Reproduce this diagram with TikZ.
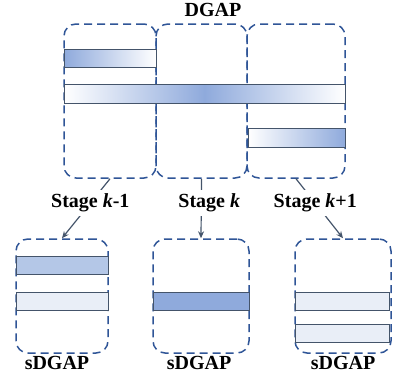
\documentclass[tikz,border=0pt]{standalone}
\usepackage{fontspec}
\setmainfont{Liberation Serif}
\usetikzlibrary{arrows.meta,positioning}
\definecolor{dgblue}{HTML}{2F5597}
\definecolor{bargray}{HTML}{44546A}
\definecolor{barblue}{HTML}{8FAADC}
\definecolor{lightbar}{HTML}{B4C7E7}
\definecolor{paleblue}{HTML}{E9EEF7}
\begin{document}
\begin{tikzpicture}[x=1pt,y=-1pt,
  dgbox/.style={draw=dgblue,line width=1.5pt,dash pattern=on 8pt off 5pt,rounded corners=12pt},
  bar/.style={draw=bargray,line width=1pt},
  lbl/.style={font=\fontsize{20}{23}\selectfont\bfseries,text=black,inner sep=1pt},
  link/.style={-{Stealth[length=7pt,width=6pt]},line width=1.2pt,bargray}]
  \useasboundingbox (0,0) rectangle (393,383);
  % DGAP stages
  \node[dgbox,minimum width=92pt,minimum height=154pt] (top1) at (110,101) {};
  \node[dgbox,minimum width=91pt,minimum height=154pt] (top2) at (201.5,101) {};
  \node[dgbox,minimum width=98pt,minimum height=154pt] (top3) at (296,101) {};
  \node[lbl] (title) at (213,10) {DGAP};
  % DGAP bars
  \draw[bar,left color=barblue,right color=white] (64,49) rectangle (156,67);
  \draw[bar,left color=white,right color=white,middle color=barblue] (64,84) rectangle (345,103);
  \draw[bar,left color=white,right color=barblue] (248,128) rectangle (345,147);
  % sDGAP boxes
  \node[dgbox,minimum width=92pt,minimum height=114pt] (sub1) at (62,296) {};
  \node[dgbox,minimum width=96pt,minimum height=114pt] (sub2) at (201,296) {};
  \node[dgbox,minimum width=96pt,minimum height=114pt] (sub3) at (343,296) {};
  % sDGAP bars
  \draw[bar,fill=lightbar] (16,256) rectangle (108,274);
  \draw[bar,fill=paleblue] (16,292) rectangle (108,310);
  \draw[bar,fill=barblue] (153,292) rectangle (249,310);
  \draw[bar,fill=paleblue] (295,292) rectangle (389,310);
  \draw[bar,fill=paleblue] (295,324) rectangle (389,342);
  \node[lbl] (cap1) at (57,363) {sDGAP};
  \node[lbl] (cap2) at (199,363) {sDGAP};
  \node[lbl] (cap3) at (343,363) {sDGAP};
  % Arrows
  \draw[link] (top1.south) -- node[lbl,fill=white,inner sep=4pt,pos=0.41] {Stage \textit{k}-1} (sub1.north);
  \draw[link] (top2.south) -- node[lbl,fill=white,inner sep=4pt,pos=0.41,xshift=8pt] {Stage \textit{k}} (sub2.north);
  \draw[link] (top3.south) -- node[lbl,fill=white,inner sep=4pt,pos=0.41] {Stage \textit{k}+1} (sub3.north);
\end{tikzpicture}
\end{document}
